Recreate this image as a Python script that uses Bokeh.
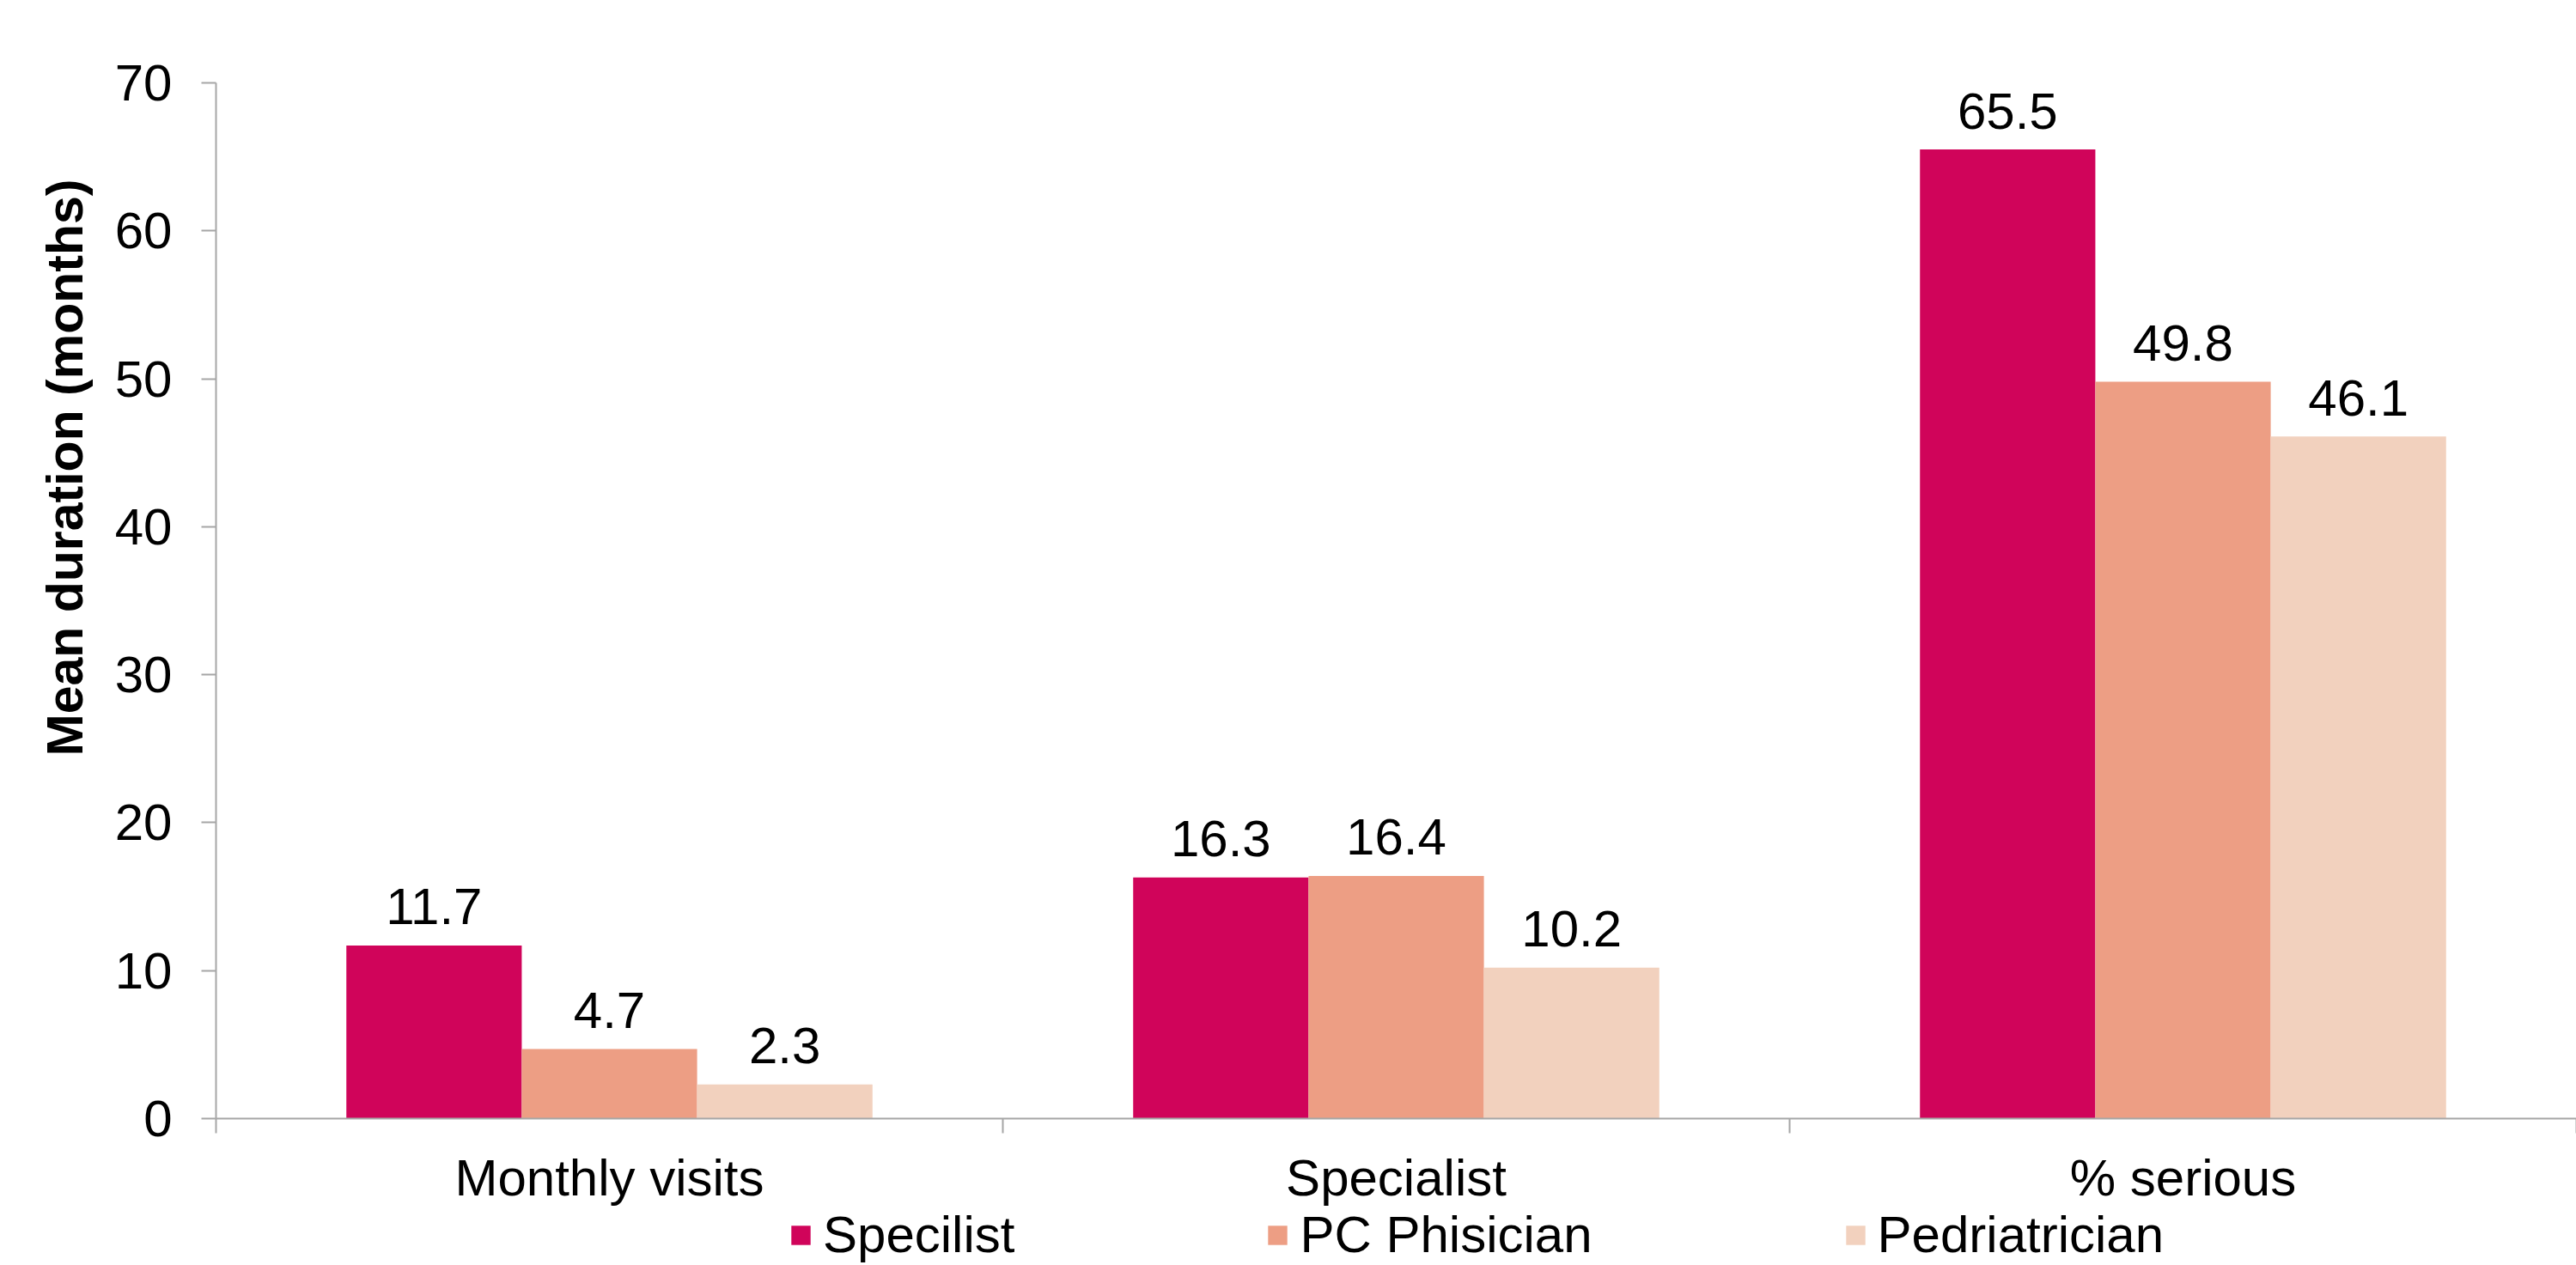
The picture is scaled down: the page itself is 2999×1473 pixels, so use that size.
from bokeh.plotting import figure
from bokeh.layouts import column
from bokeh.models import (Range1d, LinearAxis, FixedTicker, Title,
                          Legend, LegendItem, ColumnDataSource)
from bokeh.transform import dodge
from bokeh.core.properties import value
from bokeh.embed import file_html
from bokeh.resources import INLINE

categories = ["Monthly visits", "Specialist", "% serious"]
series_names = ["Specilist", "PC Phisician", "Pedriatrician"]
specilist = [11.7, 16.3, 65.5]
pc_phisician = [4.7, 16.4, 49.8]
pedriatrician = [2.3, 10.2, 46.1]
y_ticks = [0, 10, 20, 30, 40, 50, 60, 70]
y_title = "Mean duration (months)"

colors = ["#D0045A", "#ED9E84", "#F2D1BE"]
FONT = "Liberation Sans"
FS = "60px"
GRAY = "#A6A6A6"

n = len(categories)
idx = list(range(n))
src = ColumnDataSource(dict(
    idx=idx,
    s0=specilist, s1=pc_phisician, s2=pedriatrician,
    l0=[f"{v:.1f}" for v in specilist],
    l1=[f"{v:.1f}" for v in pc_phisician],
    l2=[f"{v:.1f}" for v in pedriatrician],
))

# ---------------- main chart ----------------
p = figure(x_range=Range1d(0, n), y_range=Range1d(0, 70),
           frame_width=2748, frame_height=1206,
           min_border_left=251, min_border_top=96, min_border_right=0, min_border_bottom=36,
           x_axis_location=None, output_backend="svg", toolbar_location=None)
p.outline_line_color = None
p.background_fill_color = "white"
p.border_fill_color = "white"

bw = 0.2229
offsets = [-bw, 0.0, bw]
for i, (name, off) in enumerate(zip(series_names, offsets)):
    p.vbar(x=dodge("idx", 0.5 + off), top=f"s{i}", width=bw,
           source=src, fill_color=colors[i], line_color=None)
    p.text(x=dodge("idx", 0.5 + off), y=f"s{i}", text=f"l{i}", source=src,
           text_align="center", text_baseline="alphabetic", y_offset=-45,
           text_font=value(FONT), text_font_size=FS, text_color="black")

yax = p.yaxis[0]
yax.ticker = FixedTicker(ticks=y_ticks)
yax.major_label_text_font = FONT
yax.major_label_text_font_size = FS
yax.major_label_text_color = "black"
yax.major_label_standoff = 34
yax.major_tick_out = 17
yax.major_tick_in = 0
yax.minor_tick_line_color = None
yax.axis_line_color = GRAY
yax.axis_line_width = 2
yax.major_tick_line_color = GRAY
yax.major_tick_line_width = 2

p.add_layout(Title(text=y_title, align="left", offset=422, standoff=44,
                   text_font=FONT, text_font_size="59px", text_font_style="bold",
                   text_color="black"), "left")

# x axis line with tick marks at category boundaries (no labels)
edge_axis = LinearAxis(ticker=FixedTicker(ticks=[], minor_ticks=list(range(n + 1))),
                       axis_line_color=GRAY, axis_line_width=2,
                       major_tick_line_color=None, major_tick_out=17, major_tick_in=0,
                       minor_tick_line_color=GRAY, minor_tick_line_width=2,
                       minor_tick_out=17, minor_tick_in=0, major_label_standoff=0)
p.add_layout(edge_axis, "below")
p.grid.grid_line_color = None

# ---------------- category labels + legend strip ----------------
p2 = figure(x_range=p.x_range, y_range=Range1d(0, 1),
            frame_width=2748, frame_height=135,
            min_border_left=251, min_border_top=0, min_border_right=0, min_border_bottom=0,
            x_axis_location=None, y_axis_location=None,
            output_backend="svg", toolbar_location=None)
p2.outline_line_color = None
p2.background_fill_color = "white"
p2.border_fill_color = "white"
p2.grid.grid_line_color = None

cat_src = ColumnDataSource(dict(pos=[i + 0.5 for i in idx], name=categories,
                                top=[1] * n))
p2.text(x="pos", y="top", text="name", source=cat_src,
        text_align="center", text_baseline="middle", y_offset=33,
        text_font=value(FONT), text_font_size=FS, text_color="black")

# same bars (hidden) in the strip, only so the legend can draw its swatches
swatches = []
for i, (name, off) in enumerate(zip(series_names, offsets)):
    r = p2.vbar(x=dodge("idx", 0.5 + off), top=f"s{i}", width=bw, source=src,
                fill_color=colors[i], line_color=None, visible=False)
    swatches.append(r)

legend = Legend(items=[LegendItem(label=nm, renderers=[r]) for nm, r in zip(series_names, swatches)],
                orientation="horizontal", location=(667, 1), click_policy="none",
                border_line_color=None, background_fill_alpha=0,
                glyph_width=28, glyph_height=28, label_standoff=12, spacing=292,
                label_text_font=FONT, label_text_font_size=FS, label_text_color="black",
                padding=0, margin=0)
p2.add_layout(legend, "center")

layout = column(p, p2, spacing=0)
open("out.html", "w").write(file_html(layout, INLINE))
